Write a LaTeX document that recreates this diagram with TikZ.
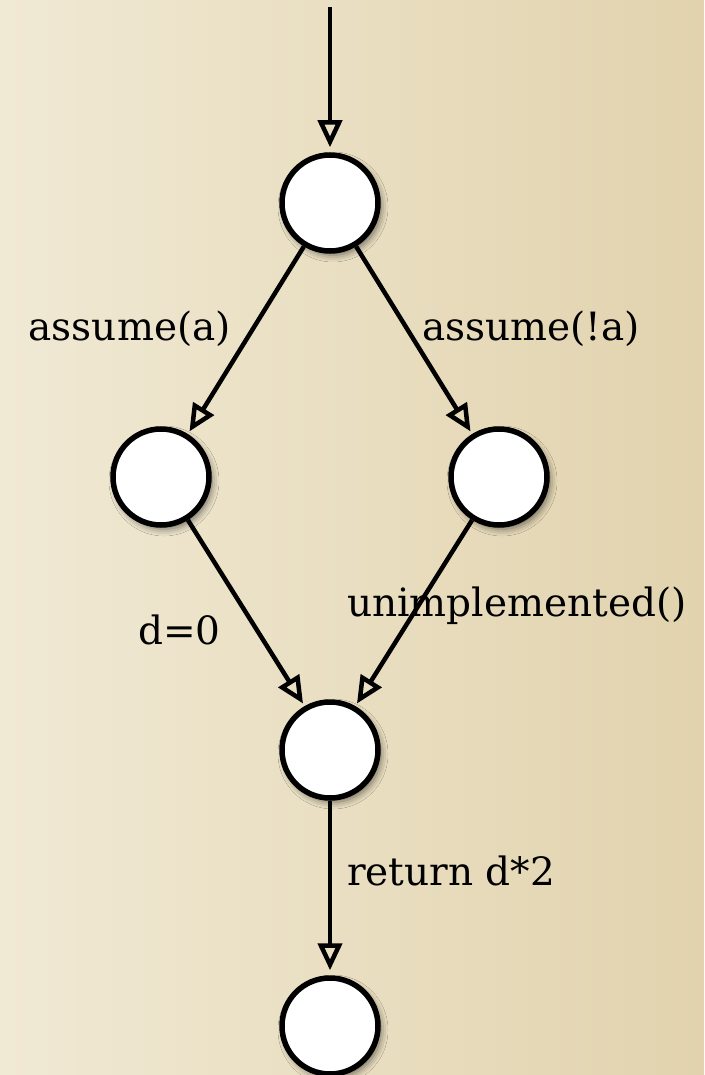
\documentclass[tikz,border=0pt]{standalone}
\usepackage{fontspec}
\setmainfont{DejaVu Serif}
\usetikzlibrary{arrows.meta,shadows.blur}

\definecolor{paperlight}{RGB}{240,233,212}
\definecolor{papermid}{RGB}{236,226,200}
\definecolor{paperdark}{RGB}{226,211,174}

\tikzset{
  state/.style={circle, draw, line width=5.5pt, fill=white, minimum size=96pt, inner sep=0pt,
    blur shadow={shadow xshift=3pt, shadow yshift=-4pt, shadow blur radius=7pt, shadow opacity=55}},
  flow/.style={line width=4.5pt, -{Triangle[open, length=27pt, width=24pt]}, shorten >=3pt},
  lbl/.style={font=\fontsize{39}{46}\selectfont, inner sep=0pt},
}

\begin{document}
\begin{tikzpicture}[x=1pt, y=-1pt]
  \shade[left color=paperlight, middle color=papermid, right color=paperdark] (0,0) rectangle (704,1075);
  \useasboundingbox (0,0) rectangle (704,1075);

  % states
  \node[state] (top) at (330,203) {};
  \node[state] (left) at (161,477) {};
  \node[state] (right) at (499,477) {};
  \node[state] (join) at (330,750) {};
  \node[state] (exit) at (330,1026) {};
  \coordinate (entry) at (330,7);

  % edge labels
  \node[lbl, anchor=east] (la) at (231,329) {assume(a)};
  \node[lbl, anchor=west] (lna) at (422,329) {assume(!a)};
  \node[lbl, anchor=east] (ld) at (221,630) {d=0};
  \node[lbl, anchor=west] (lu) at (347,606) {unimplemented()};
  \node[lbl, anchor=west] (lr) at (347,871) {return d*2};

  % transitions
  \draw[flow, shorten >=5pt] (entry) -- (top);
  \draw[flow] (top.239) -- (left.58);
  \draw[flow] (top.301) -- (right.122);
  \draw[flow] (left.302) -- (join.120);
  \draw[flow] (right.238) -- (join.60);
  \draw[flow, shorten >=5pt] (join) -- (exit);
\end{tikzpicture}
\end{document}
